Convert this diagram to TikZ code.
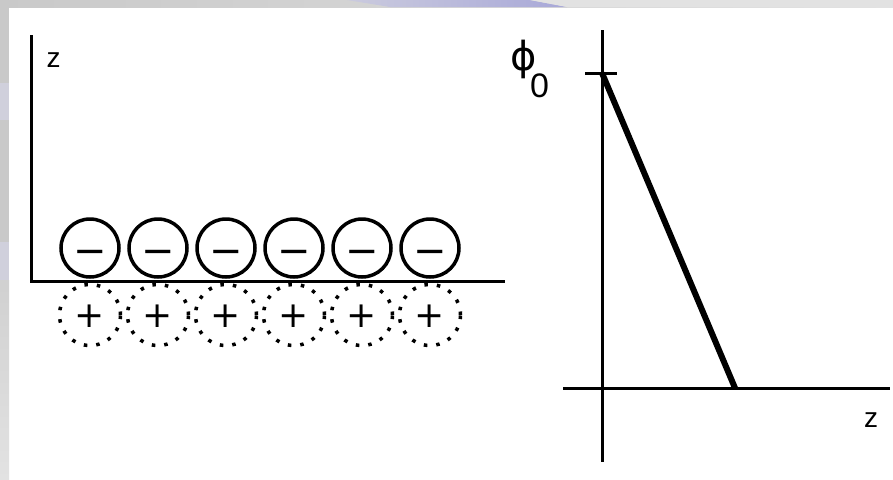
\documentclass[tikz,border=0pt]{standalone}
\usepackage{fontspec}
\setmainfont{Liberation Sans}
\newfontfamily\djv{DejaVu Sans}
\definecolor{bandgray}{HTML}{C9C9C9}
\definecolor{bandlight}{HTML}{E2E2E2}
\definecolor{bandblue}{HTML}{D0D0DC}
\definecolor{topblue}{HTML}{A8A8D8}
\begin{document}
\begin{tikzpicture}[x=1pt,y=-1pt,
  axis/.style={line width=3pt,line cap=butt},
  negc/.style={circle,draw,line width=3.5pt,minimum size=58pt,inner sep=0pt,font=\djv\fontsize{40}{40}\selectfont},
  posc/.style={circle,draw,line width=3.5pt,dash pattern=on 3.5pt off 9pt,minimum size=61pt,inner sep=0pt,font=\djv\fontsize{36}{38}\selectfont},
  lbl/.style={inner sep=0pt,font=\fontsize{28}{30}\selectfont}]
\useasboundingbox (0,0) rectangle (893,479);
% slide background
\fill[white] (0,0) rectangle (893,479);
\fill[bandgray] (0,0) rectangle (9,280);
\shade[top color=bandgray!70!bandlight,bottom color=bandlight] (0,280) rectangle (9,479);
\fill[bandblue] (0,83) rectangle (9,120);
\fill[bandblue] (0,242) rectangle (9,280);
\shade[left color=bandgray,right color=bandlight] (0,0) rectangle (893,7);
\shade[left color=bandlight!60!topblue,right color=topblue] (347,0) -- (530,0) -- (567,7) -- (390,7) -- cycle;
\fill[bandlight] (567,0) rectangle (893,7);
\fill[bandlight] (530,0) -- (567,0) -- (567,7) -- cycle;
% left diagram
\coordinate (ztop) at (31,35);
\coordinate (orig) at (31,281);
\coordinate (xend) at (505,281);
\draw[axis] (ztop) -- (orig) -- (xend);
\node[lbl] (zl) at (53.5,60.5) {z};
\foreach \i in {0,...,5}{
  \node[negc] (n\i) at ({90+68*\i},248) {\raisebox{-16.5pt}[0pt][0pt]{−}};
  \node[posc] (p\i) at ({90+68*\i},315) {\raisebox{-12.5pt}[0pt][0pt]{+}};
}
% right diagram
\coordinate (vtop) at (602,30);
\coordinate (vbot) at (602,462);
\coordinate (hl) at (563,388);
\coordinate (hr) at (890,388);
\coordinate (tl) at (585,73);
\coordinate (tr) at (617,73);
\coordinate (phitop) at (602,73);
\coordinate (zcross) at (735,388);
\draw[axis] (vtop) -- (vbot);
\draw[axis] (hl) -- (hr);
\draw[axis] (tl) -- (tr);
\draw[line width=6pt] (phitop) -- (zcross);
\node[lbl] (zr) at (871,420) {z};
\node[inner sep=0pt,anchor=base west,font=\djv\fontsize{40}{40}\selectfont] (phi) at (510,70) {ϕ};
\node[inner sep=0pt,anchor=base west,font=\fontsize{34}{36}\selectfont] (sub) at (530,97) {0};
\end{tikzpicture}
\end{document}
